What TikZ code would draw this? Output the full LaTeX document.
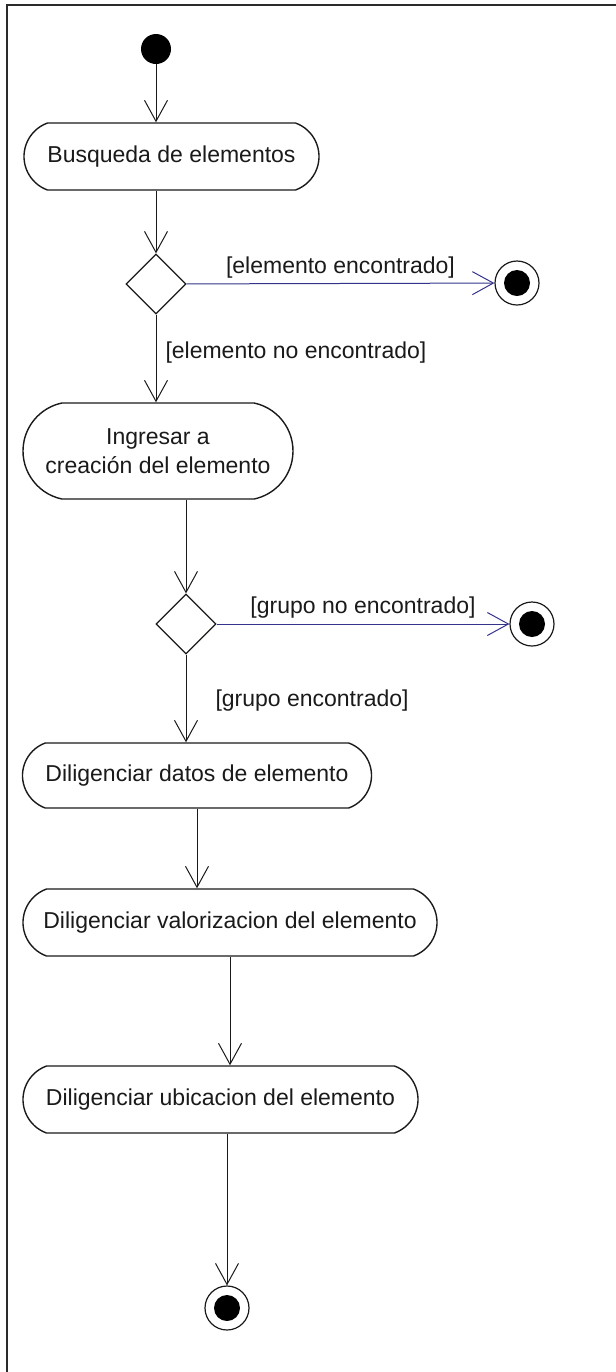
\documentclass[tikz,border=0pt]{standalone}
\usepackage{fontspec}
\setmainfont{Liberation Sans}
\usetikzlibrary{arrows.meta,shapes.geometric,shapes.misc}
\definecolor{umlink}{HTML}{1A1A1A}
\definecolor{umlguard}{HTML}{34348C}
\definecolor{umlframe}{HTML}{2B2B2B}
\tikzset{
  act/.style={rounded rectangle, rounded rectangle arc length=140, draw=umlink, line width=0.7pt, fill=white, align=center, inner sep=0pt, font=\fontsize{11.5}{14.5}\selectfont, text=umlink},
  dec/.style={diamond, draw=umlink, line width=0.6pt, fill=white, minimum width=30pt, minimum height=30pt, inner sep=0pt},
  startdot/.style={circle, fill=black, minimum size=15pt, inner sep=0pt},
  enddot/.style={circle, draw=umlink, line width=0.6pt, fill=white, minimum size=22pt, inner sep=0pt,
    path picture={\fill[black] (path picture bounding box.center) circle (6.5pt);}},
  flw/.style={-{Straight Barb[length=10.5pt, width=11.5pt, line width=0.5pt]}, line width=0.5pt, color=umlink},
  grd/.style={flw, color=umlguard},
  lbl/.style={font=\fontsize{11.5}{14}\selectfont, text=umlink, inner sep=0pt},
}
\begin{document}
\begin{tikzpicture}[x=0.5pt, y=-0.5pt]
  \useasboundingbox (0,0) rectangle (616,1372);
  \draw[umlframe, line width=1pt] (7,1372) -- (7,5) -- (616,5);
  \node[startdot] (ini) at (156,49) {};
  \node[act, minimum width=147.5pt, minimum height=33.5pt] (busq) at (171.5,156.5) {Busqueda de elementos};
  \node[dec] (d1) at (156,284) {};
  \node[enddot] (f1) at (517,283) {};
  \node[act, minimum width=135pt, minimum height=48pt, rounded rectangle arc length=156] (ingr) at (158,451) {Ingresar a\\creación del elemento};
  \node[dec] (d2) at (186,624) {};
  \node[enddot] (f2) at (532,624) {};
  \node[act, minimum width=174.5pt, minimum height=32.5pt] (dat) at (197,775.5) {Diligenciar datos de elemento};
  \node[act, minimum width=207pt, minimum height=33.5pt] (val) at (230,922.5) {Diligenciar valorizacion del elemento};
  \node[act, minimum width=197.5pt, minimum height=33.5pt] (ubi) at (220.5,1099.5) {Diligenciar ubicacion del elemento};
  \node[enddot] (f3) at (227,1308) {};
  \draw[flw] (ini) -- (ini |- busq.north);
  \draw[flw] (busq.south -| d1) -- (d1);
  \draw[grd] (d1) -- node[lbl, above=2.5pt] {[elemento encontrado]} (f1);
  \draw[flw] (d1) -- node[lbl, right=4.5pt, pos=0.43] {[elemento no encontrado]} (d1 |- ingr.north);
  \draw[flw] (ingr.south -| d2) -- (d2);
  \draw[grd] (d2) -- node[lbl, above=2.5pt] {[grupo no encontrado]} (f2);
  \draw[flw] (d2) -- node[lbl, right=14.5pt, pos=0.52] {[grupo encontrado]} (d2 |- dat.north);
  \draw[flw] (dat.south) -- (dat.south |- val.north);
  \draw[flw] (val.south) -- (val.south |- ubi.north);
  \draw[flw] (ubi.south -| f3) -- (f3);
\end{tikzpicture}
\end{document}
